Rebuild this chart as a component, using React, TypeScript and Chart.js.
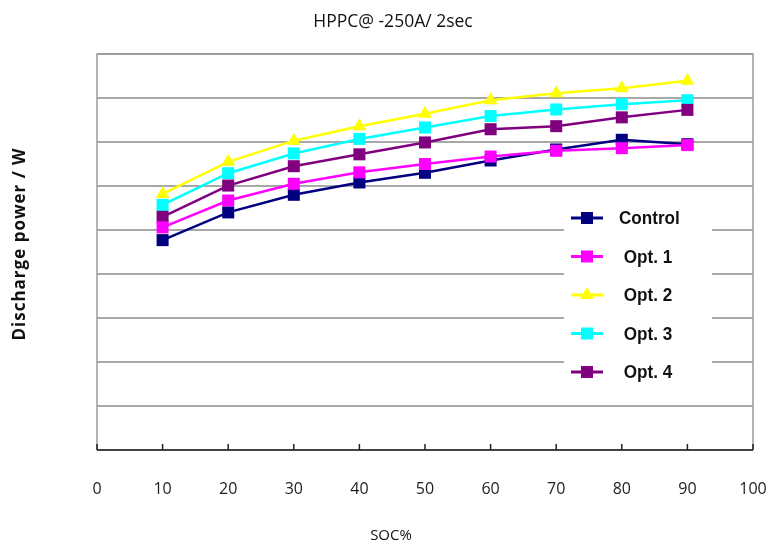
import React, { useEffect, useRef } from "react";
import { Chart, registerables } from "chart.js";

Chart.register(...registerables);

const socValues = [10, 20, 30, 40, 50, 60, 70, 80, 90];
const xTickValues = [0, 10, 20, 30, 40, 50, 60, 70, 80, 90, 100];
const controlPower = [4.77, 5.4, 5.8, 6.08, 6.3, 6.58, 6.83, 7.05, 6.95];
const opt1Power = [5.06, 5.67, 6.05, 6.31, 6.5, 6.67, 6.8, 6.86, 6.93];
const opt2Power = [5.82, 6.55, 7.03, 7.36, 7.64, 7.95, 8.11, 8.22, 8.39];
const opt3Power = [5.57, 6.29, 6.74, 7.07, 7.33, 7.59, 7.74, 7.86, 7.95];
const opt4Power = [5.3, 6.01, 6.45, 6.72, 6.99, 7.29, 7.36, 7.56, 7.73];
const seriesLabels = ["Control", " Opt. 1", " Opt. 2", " Opt. 3", " Opt. 4"];
const seriesColors = ["#000080", "#ff00ff", "#ffff00", "#00ffff", "#800080"];
const seriesMarkers = ["rect", "rect", "triangle", "rect", "rect"];
const chartTitle = "HPPC@ -250A/ 2sec";
const xTitle = "SOC%";
const yTitle = "Discharge power / W";

const decorPlugin = {
  id: "decor",
  beforeDatasetsDraw(chart: any) {
    const { ctx, chartArea: a, scales } = chart;
    ctx.save();
    ctx.strokeStyle = "#9a9a9a";
    ctx.lineWidth = 1.5;
    ctx.beginPath();
    ctx.moveTo(a.left, a.bottom);
    ctx.lineTo(a.left, a.top);
    ctx.lineTo(a.right, a.top);
    ctx.lineTo(a.right, a.bottom);
    ctx.stroke();
    ctx.strokeStyle = "#444";
    ctx.lineWidth = 2;
    ctx.beginPath();
    ctx.moveTo(a.left, a.bottom);
    ctx.lineTo(a.right, a.bottom);
    ctx.stroke();
    ctx.lineWidth = 1.5;
    ctx.strokeStyle = "#222";
    ctx.beginPath();
    xTickValues.forEach((v) => {
      const px = scales.x.getPixelForValue(v);
      ctx.moveTo(px, a.bottom);
      ctx.lineTo(px, a.bottom - 6);
    });
    ctx.stroke();
    ctx.restore();
  },
  afterDraw(chart: any) {
    const { ctx } = chart;
    ctx.save();
    ctx.fillStyle = "#111";
    ctx.textAlign = "center";
    ctx.textBaseline = "middle";
    ctx.font = "17.5px 'Open Sans'";
    ctx.fillText(chartTitle, 393, 22);
    ctx.font = "15px 'Open Sans'";
    ctx.fillText(xTitle, 391, 536);
    ctx.save();
    ctx.translate(20, 244);
    ctx.rotate(-Math.PI / 2);
    ctx.font = "bold 17px 'Open Sans'";
    (ctx as any).letterSpacing = "1px";
    ctx.fillText(yTitle, 0, 0);
    ctx.restore();

    const bx = 564, by = 200, bw = 148, bh = 188;
    ctx.fillStyle = "#ffffff";
    ctx.fillRect(bx, by, bw, bh);
    const rowY0 = 218, rowStep = 38.5;
    chart.data.datasets.forEach((ds: any, i: number) => {
      const y = rowY0 + i * rowStep;
      ctx.strokeStyle = ds.borderColor;
      ctx.lineWidth = 3;
      ctx.beginPath();
      ctx.moveTo(571, y);
      ctx.lineTo(603, y);
      ctx.stroke();
      ctx.fillStyle = ds.borderColor;
      ctx.beginPath();
      if (ds.pointStyle === "triangle") {
        ctx.moveTo(587, y - 8);
        ctx.lineTo(594, y + 4);
        ctx.lineTo(580, y + 4);
        ctx.closePath();
      } else {
        ctx.rect(581, y - 6, 12, 12);
      }
      ctx.fill();
      ctx.save();
      ctx.translate(619, y);
      ctx.scale(0.9, 1);
      ctx.fillStyle = "#111";
      ctx.textAlign = "left";
      ctx.font = "bold 19px 'Liberation Sans'";
      ctx.fillText(ds.label, 0, 1);
      ctx.restore();
    });
    ctx.restore();
  },
};

export default function App() {
  const ref = useRef<HTMLCanvasElement>(null);
  useEffect(() => {
    document.body.style.margin = "0";
    const seriesData = [controlPower, opt1Power, opt2Power, opt3Power, opt4Power];
    const drawOrder = [4, 0, 3, 2, 1];
    const chart = new Chart(ref.current!, {
      type: "line",
      data: {
        datasets: seriesData.map((vals, i) => ({
          label: seriesLabels[i],
          data: socValues.map((x, j) => ({ x, y: vals[j] })),
          borderColor: seriesColors[i],
          backgroundColor: seriesColors[i],
          pointStyle: seriesMarkers[i] as any,
          pointRadius: seriesMarkers[i] === "triangle" ? 8 : 8.5,
          pointBorderWidth: 0,
          borderWidth: 2.5,
          tension: 0,
          order: drawOrder[i],
        })),
      },
      options: {
        animation: false,
        responsive: false,
        maintainAspectRatio: false,
        layout: { padding: { top: 54, left: 97, right: 16, bottom: 0 } },
        plugins: { legend: { display: false }, title: { display: false }, tooltip: { enabled: false } },
        scales: {
          x: {
            type: "linear",
            min: 0,
            max: 100,
            afterBuildTicks: (s: any) => {
              s.ticks = xTickValues.map((v) => ({ value: v }));
            },
            afterFit: (s: any) => {
              s.height = 95;
              s.paddingLeft = 0;
              s.paddingRight = 0;
            },
            grid: { display: false, drawTicks: false },
            border: { display: false },
            ticks: { padding: 30, color: "#222", font: { family: "'Open Sans'", size: 16 }, maxRotation: 0, autoSkip: false },
          },
          y: {
            min: 0,
            max: 9,
            ticks: { display: false, stepSize: 1 },
            afterFit: (s: any) => {
              s.width = 0;
              s.paddingTop = 0;
              s.paddingBottom = 0;
            },
            grid: { color: "#a8a8a8", lineWidth: 2, drawTicks: false },
            border: { display: false },
          },
        },
      },
      plugins: [decorPlugin],
    });
    return () => chart.destroy();
  }, []);
  return (
    <div style={{ position: "fixed", left: 0, top: 0, width: 769, height: 545, background: "#fff" }}>
      <canvas ref={ref} width={769} height={545} style={{ width: 769, height: 545 }} />
    </div>
  );
}
